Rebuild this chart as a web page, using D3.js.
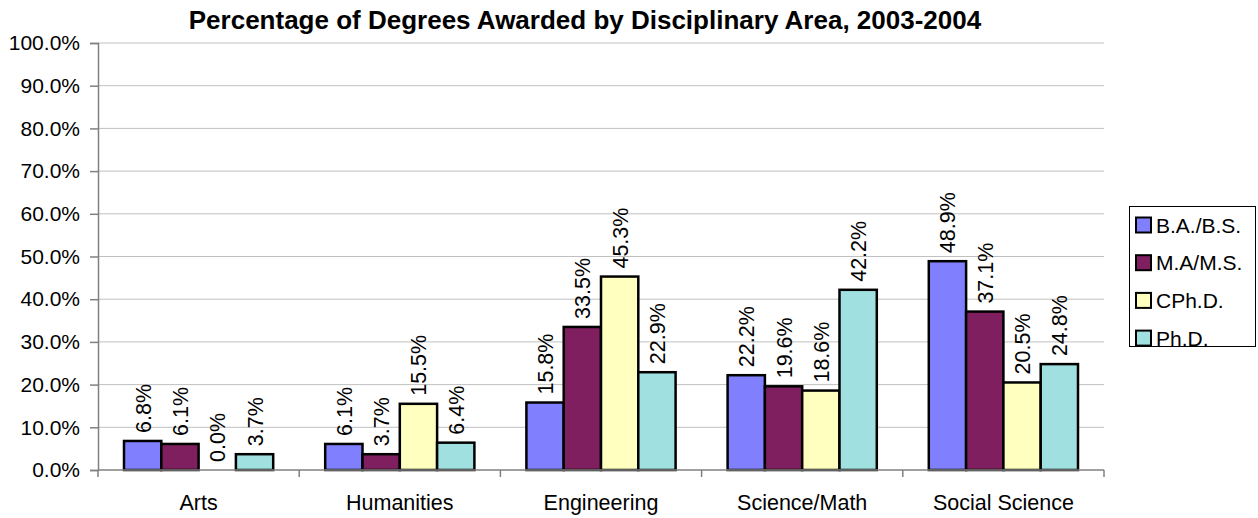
<!DOCTYPE html>
<html>
<head>
<meta charset="utf-8">
<script src="https://cdn.jsdelivr.net/npm/d3@7"></script>
<style>
  body { margin: 0; background: #fff; }
  text { font-family: "Liberation Sans", Arial, sans-serif; fill: #000; }
</style>
</head>
<body>
<svg></svg>
<script>
// размеры окна
const width = 1258;
const height = 518;

// данные
const categories = ["Arts", "Humanities", "Engineering", "Science/Math", "Social Science"];
const series = ["B.A./B.S.", "M.A/M.S.", "CPh.D.", "Ph.D."];
const colors = ["#8080FF", "#7F1F5F", "#FFFFC0", "#A0E0E0"];
const baValues = [6.8, 6.1, 15.8, 22.2, 48.9];
const maValues = [6.1, 3.7, 33.5, 19.6, 37.1];
const cphdValues = [0.0, 15.5, 45.3, 18.6, 20.5];
const phdValues = [3.7, 6.4, 22.9, 42.2, 24.8];
const yTicks = [0, 10, 20, 30, 40, 50, 60, 70, 80, 90, 100];

const seriesValues = [baValues, maValues, cphdValues, phdValues];

let svg = d3.select("svg")
    .attr("width", width)
    .attr("height", height);

const plotLeft = 98, plotRight = 1104, plotTop = 43, plotBottom = 470;

let x = d3.scaleBand().domain(categories).range([plotLeft, plotRight]);
let x1 = d3.scaleBand().domain(series).range([26, x.bandwidth() - 26]);
let y = d3.scaleLinear().domain([0, 100]).range([plotBottom, plotTop]);

// заголовок
svg.append("text")
    .attr("x", 585).attr("y", 29)
    .attr("text-anchor", "middle")
    .style("font-weight", "bold")
    .style("font-size", "26px")
    .text("Percentage of Degrees Awarded by Disciplinary Area, 2003-2004");

// сетка
svg.append("g").selectAll("line")
    .data(yTicks.filter(d => d > 0))
    .join("line")
    .attr("x1", plotLeft).attr("x2", plotRight)
    .attr("y1", d => y(d)).attr("y2", d => y(d))
    .attr("stroke", "#c0c0c0").attr("stroke-width", 1);

// ось Y
let yAxis = svg.append("g")
    .attr("transform", `translate(${plotLeft},0)`)
    .call(d3.axisLeft(y).tickValues(yTicks).tickSize(8).tickPadding(10).tickFormat(d => d.toFixed(1) + "%"));
yAxis.select(".domain").attr("stroke", "#808080").attr("stroke-width", 1.5);
yAxis.selectAll(".tick line").attr("stroke", "#808080").attr("stroke-width", 1.5);
yAxis.selectAll("text").style("font-size", "21px").style("font-family", "'Liberation Sans', Arial, sans-serif");

// столбцы
let groups = svg.append("g").selectAll("g")
    .data(categories)
    .join("g")
    .attr("transform", d => `translate(${x(d)},0)`);

groups.selectAll("rect")
    .data((c, i) => series.map((s, j) => ({ s: s, v: seriesValues[j][i], j: j })))
    .join("rect")
    .attr("x", d => x1(d.s))
    .attr("width", x1.bandwidth())
    .attr("y", d => y(d.v))
    .attr("height", d => y(0) - y(d.v))
    .attr("fill", d => colors[d.j])
    .attr("stroke", d => d.v > 0 ? "#000" : "none")
    .attr("stroke-width", 2.5);

// подписи значений
groups.selectAll("text")
    .data((c, i) => series.map((s, j) => ({ s: s, v: seriesValues[j][i], j: j })))
    .join("text")
    .attr("transform", d => `translate(${x1(d.s) + x1.bandwidth() / 2 + 8},${y(d.v) - 8}) rotate(-90)`)
    .style("font-size", "21.5px")
    .text(d => d.v.toFixed(1) + "%");

// ось X
let xAxis = svg.append("g")
    .attr("transform", `translate(0,${plotBottom})`);
xAxis.append("line")
    .attr("x1", plotLeft).attr("x2", plotRight)
    .attr("stroke", "#808080").attr("stroke-width", 1.5);
xAxis.selectAll("line.tick")
    .data(d3.range(categories.length + 1))
    .join("line")
    .attr("class", "tick")
    .attr("x1", d => plotLeft + d * x.bandwidth()).attr("x2", d => plotLeft + d * x.bandwidth())
    .attr("y1", 0).attr("y2", 7)
    .attr("stroke", "#808080").attr("stroke-width", 1.5);
xAxis.selectAll("text")
    .data(categories)
    .join("text")
    .attr("x", d => x(d) + x.bandwidth() / 2)
    .attr("y", 40)
    .attr("text-anchor", "middle")
    .style("font-size", "21.5px")
    .text(d => d);

// легенда
let legend = svg.append("g");
legend.append("rect")
    .attr("x", 1129.5).attr("y", 206.5)
    .attr("width", 126).attr("height", 140)
    .attr("fill", "#fff").attr("stroke", "#000").attr("stroke-width", 1);
let items = legend.selectAll("g")
    .data(series)
    .join("g")
    .attr("transform", (d, i) => `translate(1136,${225 + i * 37.7})`);
items.append("rect")
    .attr("x", 0).attr("y", -7.5)
    .attr("width", 15).attr("height", 15)
    .attr("fill", (d, i) => colors[i])
    .attr("stroke", "#000").attr("stroke-width", 2);
items.append("text")
    .attr("x", 20).attr("y", 7.5)
    .style("font-size", "21px")
    .text(d => d);
</script>
</body>
</html>
